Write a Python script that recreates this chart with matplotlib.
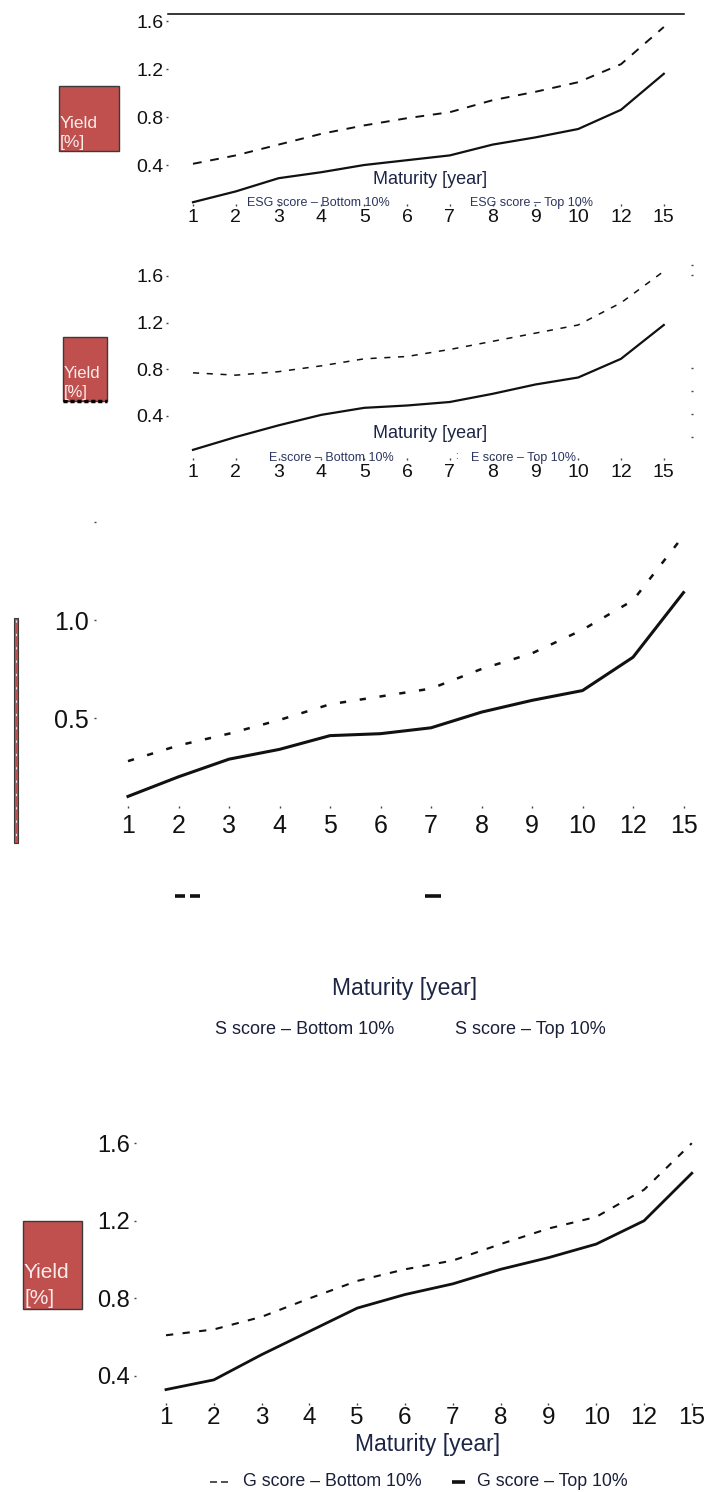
import matplotlib
matplotlib.use('Agg')
import matplotlib.pyplot as plt
from matplotlib.patches import Rectangle
from matplotlib.lines import Line2D

plt.rcParams['font.family'] = ['Liberation Sans', 'DejaVu Sans']

# ---------------- data ----------------
maturities = ['1', '2', '3', '4', '5', '6', '7', '8', '9', '10', '12', '15']

esg_bottom = [0.41, 0.48, 0.57, 0.66, 0.73, 0.79, 0.84, 0.94, 1.01, 1.09, 1.24, 1.55]
esg_top    = [0.09, 0.18, 0.29, 0.34, 0.40, 0.44, 0.48, 0.57, 0.63, 0.70, 0.86, 1.16]

e_bottom = [0.77, 0.75, 0.78, 0.83, 0.89, 0.91, 0.97, 1.04, 1.11, 1.18, 1.37, 1.64]
e_top    = [0.11, 0.22, 0.32, 0.41, 0.47, 0.49, 0.52, 0.59, 0.67, 0.73, 0.89, 1.18]

s_bottom = [0.28, 0.36, 0.42, 0.49, 0.57, 0.61, 0.65, 0.75, 0.83, 0.95, 1.10, 1.43]
s_top    = [0.10, 0.20, 0.29, 0.34, 0.41, 0.42, 0.45, 0.53, 0.59, 0.64, 0.81, 1.14]

g_bottom = [0.61, 0.64, 0.705, 0.80, 0.89, 0.95, 0.995, 1.08, 1.16, 1.22, 1.36, 1.60]
g_top    = [0.33, 0.38, 0.51, 0.63, 0.75, 0.82, 0.875, 0.95, 1.01, 1.08, 1.20, 1.445]

yticks_a = [0.4, 0.8, 1.2, 1.6]
yticklabels_a = ['0.4', '0.8', '1.2', '1.6']
yticks_s = [0.5, 1.0, 1.5]
yticklabels_s = ['0.5', '1.0', '']
e_right_marks = [0.22, 0.42, 0.61, 0.81, 1.61, 1.69]

xlabel = 'Maturity [year]'
ylabel_lines = ['Yield', '[%]']
leg_esg = ['ESG score \u2013 Bottom 10%', 'ESG score \u2013 Top 10%']
leg_e = ['E score \u2013 Bottom 10%', 'E score \u2013 Top 10%']
leg_s = ['S score \u2013 Bottom 10%', 'S score \u2013 Top 10%']
leg_g = ['G score \u2013 Bottom 10%', 'G score \u2013 Top 10%']

# ---------------- layout helpers ----------------
W, H = 704, 1492
fig = plt.figure(figsize=(W / 100, H / 100), dpi=100)
RED = '#C0504D'
NAVY = '#1d2545'


def fx(x):
    return x / W


def fy(y):
    return 1 - y / H


def make_axes(l, r, t, b, x0, dx, vref, yref, ppu):
    ax = fig.add_axes([fx(l), fy(b), (r - l) / W, (b - t) / H])
    ax.set_xlim((l - x0) / dx, (r - x0) / dx)
    ax.set_ylim(vref - (b - yref) / ppu, vref + (yref - t) / ppu)
    for s in ax.spines.values():
        s.set_visible(False)
    ax.set_facecolor('none')
    return ax


def style_ticks(ax, fs_x, fs_y, padx, pady, yt, ytl):
    xs = list(range(len(maturities)))
    ax.set_xticks(xs)
    ax.set_xticklabels(maturities, fontsize=fs_x, color='#111111')
    ax.set_yticks(yt)
    ax.set_yticklabels(ytl, fontsize=fs_y, color='#111111')
    ax.tick_params(axis='x', length=1.5, width=1.0, color='#444444', pad=padx)
    ax.tick_params(axis='y', length=1.5, width=1.0, color='#444444', pad=pady)


def ybox(l, t, r, b, fs, ty1, ty2, dotted=False):
    rect = Rectangle((fx(l), fy(b)), (r - l) / W, (b - t) / H, transform=fig.transFigure,
                     facecolor=RED, edgecolor='#3a3a3a', linewidth=1.0)
    fig.add_artist(rect)
    if dotted:
        fig.add_artist(Line2D([fx(l), fx(r)], [fy(b), fy(b)], transform=fig.transFigure,
                              color='black', lw=2.5, linestyle=(0, (1.2, 0.8))))
    fig.text(fx(l + 1), fy(ty1), ylabel_lines[0], color='#fbecec', fontsize=fs,
             ha='left', va='center')
    fig.text(fx(l + 1), fy(ty2), ylabel_lines[1], color='#fbecec', fontsize=fs,
             ha='left', va='center')


def hline(x1, x2, y, lw, color='#111111', ls='-'):
    fig.add_artist(Line2D([fx(x1), fx(x2)], [fy(y), fy(y)], transform=fig.transFigure,
                          color=color, lw=lw, linestyle=ls, solid_capstyle='butt'))


x = list(range(len(maturities)))

# ---------------- Panel 1 : ESG ----------------
ax1 = make_axes(168, 684, 14, 204, 193, 42.8, 0.4, 165, 120)
ax1.plot(x, esg_bottom, color='#111111', lw=1.4, linestyle=(0, (4.5, 4.5)))
ax1.plot(x, esg_top, color='#111111', lw=1.6)
ax1.spines['top'].set_visible(True)
ax1.spines['top'].set_linewidth(1.1)
style_ticks(ax1, 14, 14, 2.0, 1.5, yticks_a, yticklabels_a)
fig.text(fx(430), fy(180), xlabel, fontsize=13, color=NAVY, ha='center', va='center')
fig.text(fx(247), fy(203), leg_esg[0], fontsize=9, color='#2b3560', ha='left', va='center')
fig.text(fx(470), fy(203), leg_esg[1], fontsize=9, color='#2b3560', ha='left', va='center')
ybox(59, 86, 119, 151, 12.5, 123, 143)

# ---------------- Panel 2 : E ----------------
ax2 = make_axes(168, 691, 262, 458, 193, 42.8, 0.4, 416, 116.7)
ax2.plot(x, e_bottom, color='#111111', lw=1.1, linestyle=(0, (4, 5)))
ax2.plot(x, e_top, color='#111111', lw=1.6)
style_ticks(ax2, 14, 14, 2.5, 1.5, yticks_a, yticklabels_a)
ax2r = ax2.twinx()
ax2r.set_ylim(ax2.get_ylim())
for s in ax2r.spines.values():
    s.set_visible(False)
ax2r.set_yticks(e_right_marks)
ax2r.tick_params(axis='y', length=1.5, width=1.0, color='#444444', labelright=False)
fig.text(fx(430), fy(433), xlabel, fontsize=13, color=NAVY, ha='center', va='center')
fig.text(fx(269), fy(458), leg_e[0], fontsize=9, color='#2b3560', ha='left', va='center')
fig.text(fx(471), fy(458), leg_e[1], fontsize=9, color='#2b3560', ha='left', va='center')
fig.text(fx(456), fy(456), ':', fontsize=7, color='#2b3560', ha='center', va='center')
ybox(63, 337, 107, 401, 12, 373, 392, dotted=True)

# ---------------- Panel 3 : S ----------------
ax3 = make_axes(96, 700, 512, 806, 128, 50.5, 0.5, 718, 196)
ax3.plot(x, s_bottom, color='#111111', lw=1.8, linestyle=(0, (2.5, 5.5)))
ax3.plot(x, s_top, color='#111111', lw=2.2)
style_ticks(ax3, 18, 18, 4.5, 3.5, yticks_s, yticklabels_s)
fig.text(fx(405), fy(988), xlabel, fontsize=16.5, color=NAVY, ha='center', va='center')
fig.text(fx(215), fy(1030), leg_s[0], fontsize=13, color='#1a1f3a', ha='left', va='center')
fig.text(fx(455), fy(1030), leg_s[1], fontsize=13, color='#1a1f3a', ha='left', va='center')
hline(175, 185, 896, 2.6)
hline(190, 200, 896, 2.6)
hline(425, 441, 896, 2.6)
bar = Rectangle((fx(13.5), fy(843)), 4 / W, 225 / H, transform=fig.transFigure,
                facecolor=RED, edgecolor='#3a3a3a', linewidth=0.8)
fig.add_artist(bar)
fig.add_artist(Line2D([fx(15.5), fx(15.5)], [fy(620), fy(841)], transform=fig.transFigure,
                      color='#e8e0f0', lw=0.8, linestyle=(0, (2, 10))))

# ---------------- Panel 4 : G ----------------
ax4 = make_axes(136, 702, 1130, 1403, 166, 47.8, 0.4, 1376, 194)
ax4.plot(x, g_bottom, color='#111111', lw=1.5, linestyle=(0, (3.5, 4.5)))
ax4.plot(x, g_top, color='#111111', lw=2.0)
style_ticks(ax4, 17.5, 17, 1.5, 3.0, yticks_a, yticklabels_a)
fig.text(fx(428), fy(1444), xlabel, fontsize=16.5, color=NAVY, ha='center', va='center')
fig.text(fx(243), fy(1481), leg_g[0], fontsize=12.8, color='#1a1f3a', ha='left', va='center')
fig.text(fx(477), fy(1481), leg_g[1], fontsize=12.8, color='#1a1f3a', ha='left', va='center')
hline(210, 217, 1482, 1.1, color='#222222')
hline(221, 228, 1482, 1.1, color='#222222')
hline(452, 465, 1482, 2.6)
ybox(23, 1221, 82, 1309, 15, 1272, 1299)

fig.savefig('out.png', dpi=100, facecolor='white')
